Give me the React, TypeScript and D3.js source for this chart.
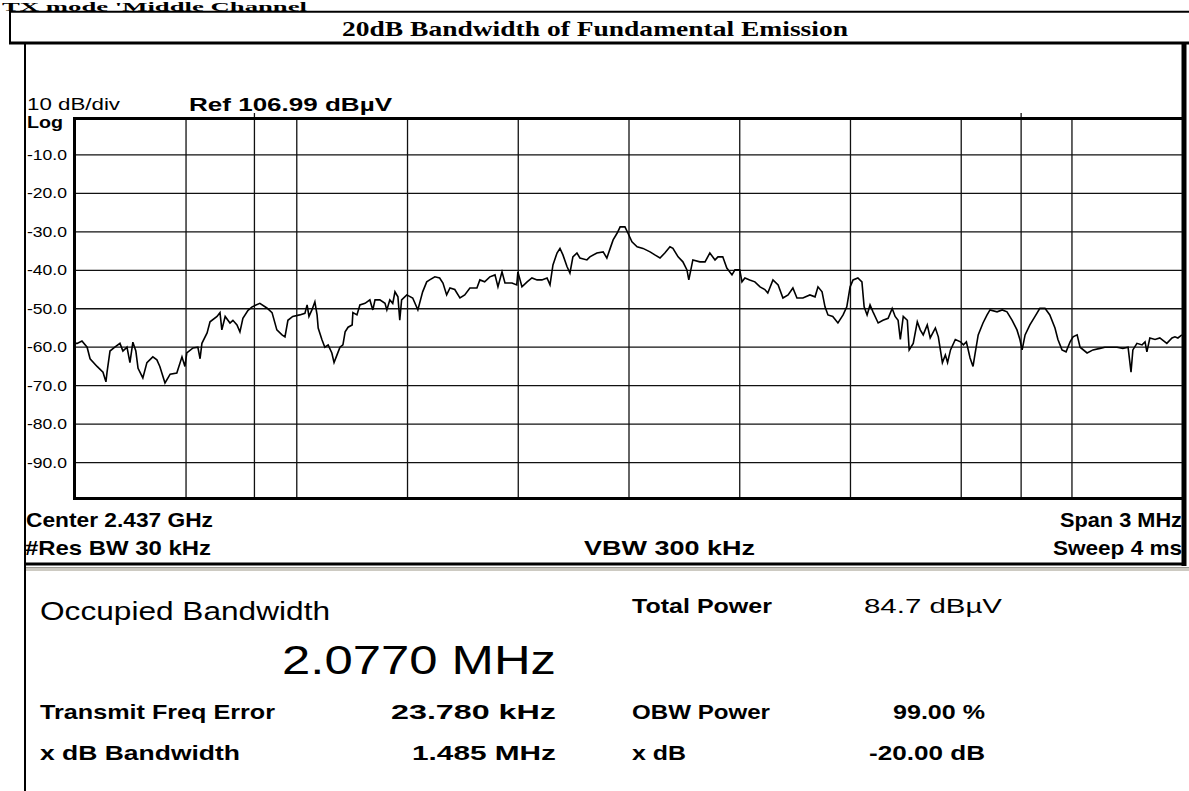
import * as d3 from 'd3';

// Trace: frequency offset from centre (kHz) and level (dB)
const freqKHz = [
  -1500, -1495, -1482, -1468, -1460, -1441, -1425, -1417, -1414, -1406, -1393, -1379, -1371, -1360, -1352, -1344,
  -1336, -1330, -1317, -1306, -1290, -1279, -1271, -1257, -1243, -1225, -1211, -1203, -1198, -1181, -1168, -1162,
  -1157, -1143, -1135, -1116, -1108, -1103, -1094, -1081, -1073, -1062, -1054, -1046, -1032, -1021, -1000, -981,
  -967, -954, -940, -932, -924, -911, -892, -878, -872, -867, -859, -851, -845, -842, -832, -824,
  -815, -805, -799, -791, -783, -775, -769, -761, -750, -748, -737, -729, -715, -702, -694, -688,
  -675, -661, -656, -648, -640, -634, -626, -621, -616, -602, -586, -572, -559, -548, -540, -526,
  -513, -504, -494, -485, -472, -458, -445, -431, -412, -404, -391, -377, -363, -355, -344, -336,
  -317, -304, -301, -290, -276, -263, -249, -236, -222, -214, -206, -195, -187, -179, -168, -160,
  -152, -141, -133, -114, -106, -87, -70, -60, -51, -43, -32, -24, -11, -3, 8, 22,
  38, 57, 70, 84, 97, 111, 119, 133, 146, 157, 162, 173, 192, 206, 219, 233,
  241, 254, 265, 279, 287, 300, 306, 314, 327, 341, 355, 368, 376, 390, 404, 417,
  431, 444, 455, 471, 490, 504, 512, 523, 531, 539, 552, 566, 580, 590, 599, 607,
  620, 631, 637, 645, 653, 661, 675, 688, 702, 713, 721, 729, 735, 743, 754, 759,
  770, 781, 789, 797, 808, 816, 830, 838, 849, 857, 863, 871, 884, 898, 906, 914,
  924, 932, 937, 946, 959, 970, 978, 997, 1011, 1024, 1038, 1051, 1059, 1065, 1073, 1086,
  1100, 1113, 1127, 1140, 1154, 1162, 1173, 1184, 1195, 1203, 1214, 1222, 1241, 1257, 1276, 1289,
  1303, 1322, 1338, 1352, 1360, 1365, 1376, 1390, 1398, 1403, 1411, 1425, 1438, 1457, 1471, 1479,
  1487, 1498,
];
const levelDb = [
  -59, -59, -58.4, -60, -63, -65, -66.5, -69, -66.5, -61, -60, -59, -61, -60, -64, -58.7,
  -61, -65.5, -68, -64, -62.5, -63.3, -65, -69.3, -67, -66.7, -62.5, -65, -61.5, -60.2, -60, -63,
  -59, -56.3, -53.4, -52, -51, -55.5, -52, -53.7, -53, -54.2, -56, -52.5, -50.4, -49.5, -48.6, -49.8,
  -51, -55.5, -56.8, -57.3, -53, -52, -51.6, -51.2, -49, -52, -50.3, -48.2, -51.6, -55, -58, -60,
  -59.4, -61.5, -64, -62, -60, -59.4, -56, -54.8, -54.2, -51, -51.6, -49, -48.6, -47.7, -50.3, -47.7,
  -47.7, -48.6, -50.3, -47.7, -48.6, -45.6, -46.9, -53, -47.7, -46.4, -47.2, -50.3, -45.6, -43, -42.5, -41.7,
  -42, -43.3, -46.4, -44.6, -45, -47.2, -46.4, -44.6, -44.6, -42.5, -43, -41.7, -41.2, -44.3, -40.4, -43.3,
  -43.3, -43.8, -40.4, -44.3, -43, -42, -42.5, -42.5, -42, -43.8, -38.6, -35.5, -34.3, -36, -39, -40.7,
  -36.5, -35.5, -36.8, -37.3, -36.5, -35.5, -35.2, -36.8, -34.3, -32.1, -30.3, -28.7, -28.7, -30.3, -32.6, -33.9,
  -34.3, -35.2, -36, -36.8, -35.5, -33.9, -34.3, -36.5, -37.8, -39.9, -42.5, -37.3, -37.8, -37.8, -35.5, -37.3,
  -36.5, -36.5, -39.4, -41.2, -39.9, -39.9, -43, -42, -42.5, -43, -44.3, -45, -45.9, -42.5, -43.8, -47.2,
  -46.4, -44.6, -47.2, -47.2, -46.4, -46.9, -44.3, -45.6, -49.5, -51.6, -52, -53.7, -51.6, -49.5, -44.3, -42.5,
  -42, -43, -49.5, -51.6, -49, -50.8, -53.7, -53, -52.5, -49.9, -52, -53, -58, -52, -53, -60.7,
  -59, -53.4, -55.5, -56.8, -54.2, -57.6, -55, -57.3, -64, -62, -64, -60.7, -58, -58.6, -59.4, -58.6,
  -62.8, -65, -62, -56.8, -53.7, -51.6, -50.3, -50.8, -50.3, -50.8, -53, -55.5, -58, -60.7, -56.8, -54.2,
  -52, -49.9, -49.9, -51.6, -55, -58, -60.7, -61.2, -58.6, -57.3, -56.8, -60, -61.5, -60.7, -60.3, -60,
  -60, -60, -60.3, -60, -66.5, -60.7, -59, -59.4, -58.6, -61.2, -57.6, -58, -57.6, -59, -57.6, -57.3,
  -57.6, -56.8,
];

const yTickValues = [-10, -20, -30, -40, -50, -60, -70, -80, -90];
const xDivisions = [-1200, -900, -600, -300, 0, 300, 600, 900, 1200];

// occupied bandwidth markers
const freqErrorKHz = 23.78;
const obwKHz = 2077;

const SANS = '"Liberation Sans", Arial, sans-serif';
const SERIF = '"Liberation Serif", "Times New Roman", serif';

type TxtProps = {
  x: number; y: number; w: number; size: number; bold?: boolean;
  anchor?: 'start' | 'middle' | 'end'; family?: string; children: string;
};

function Txt({ x, y, w, size, bold, anchor = 'start', family = SANS, children }: TxtProps) {
  return (
    <text x={x} y={y} fontSize={size} fontWeight={bold ? 700 : 400} fontFamily={family}
      textAnchor={anchor} textLength={w} lengthAdjust="spacingAndGlyphs" fill="#000">
      {children}
    </text>
  );
}

export default function App() {
  const width = 1189;
  const height = 791;
  const plot = { left: 75.3, right: 1182.7, top: 116.5, bottom: 501 };

  const x = d3.scaleLinear().domain([-1500, 1500]).range([plot.left, plot.right]);
  const y = d3.scaleLinear().domain([0, -100]).range([plot.top, plot.bottom]);

  const trace = d3.line<number>()
    .x((_, i) => x(freqKHz[i]))
    .y(d => y(d))(levelDb) || '';

  const obwLeft = freqErrorKHz - obwKHz / 2;
  const obwRight = freqErrorKHz + obwKHz / 2;

  return (
    <svg width={width} height={height} style={{ position: 'absolute', left: 0, top: 0, background: '#fff' }}>
      <defs>
        <clipPath id="plotClip">
          <rect x={75} y={118} width={1107} height={380} />
        </clipPath>
      </defs>

      {/* document header */}
      <Txt x={2} y={10.5} w={305} size={13.5} bold family={SERIF}>TX mode 'Middle Channel</Txt>
      <line x1={9} x2={1189} y1={11.8} y2={11.8} stroke="#000" strokeWidth={2} />
      <line x1={10} x2={10} y1={11} y2={43} stroke="#000" strokeWidth={2} />
      <Txt x={595} y={36} w={506} size={22} bold family={SERIF} anchor="middle">
        20dB Bandwidth of Fundamental Emission
      </Txt>
      <line x1={9} x2={1189} y1={43} y2={43} stroke="#000" strokeWidth={3} />

      {/* instrument frame */}
      <line x1={25} x2={25} y1={43} y2={791} stroke="#000" strokeWidth={2} />
      <line x1={1184} x2={1184} y1={43} y2={566} stroke="#000" strokeWidth={5} />
      <line x1={25} x2={1186} y1={564} y2={564} stroke="#000" strokeWidth={3} />
      <rect x={26} y={567} width={1163} height={4} fill="#cdcac2" />
      <line x1={26} x2={1189} y1={567.5} y2={567.5} stroke="#9c9a94" strokeWidth={1} />

      {/* grid */}
      <g clipPath="url(#plotClip)" stroke="#111" strokeWidth={1.3}>
        {yTickValues.map(v => (
          <line key={v} x1={plot.left} x2={plot.right} y1={y(v)} y2={y(v)} />
        ))}
        {xDivisions.map(v => (
          <line key={v} x1={x(v)} x2={x(v)} y1={plot.top} y2={plot.bottom} />
        ))}
      </g>
      {[obwLeft, obwRight].map(v => (
        <line key={v} x1={x(v)} x2={x(v)} y1={113} y2={498} stroke="#111" strokeWidth={1.3} />
      ))}

      {/* trace */}
      <path d={trace} fill="none" stroke="#000" strokeWidth={1.6} strokeLinejoin="miter"
        clipPath="url(#plotClip)" />

      {/* plot border */}
      <line x1={74.5} x2={74.5} y1={117} y2={500} stroke="#000" strokeWidth={3} />
      <line x1={73} x2={1183} y1={118.5} y2={118.5} stroke="#000" strokeWidth={3} />
      <line x1={73} x2={1183} y1={498.5} y2={498.5} stroke="#000" strokeWidth={3} />

      {/* screen annotations */}
      <Txt x={27} y={110} w={93} size={16}>10 dB/div</Txt>
      <Txt x={189} y={111} w={203} size={19} bold>Ref 106.99 dBµV</Txt>
      <Txt x={27} y={128} w={36} size={17} bold>Log</Txt>
      {yTickValues.map(v => (
        <Txt key={v} x={27} y={y(v) + 5} w={40} size={14.5}>{v.toFixed(1)}</Txt>
      ))}

      <Txt x={26} y={527} w={187} size={21} bold>Center  2.437 GHz</Txt>
      <Txt x={25} y={555} w={186} size={21} bold>#Res BW  30 kHz</Txt>
      <Txt x={584} y={555} w={171} size={21} bold>VBW  300 kHz</Txt>
      <Txt x={1182} y={527} w={122} size={21} bold anchor="end">Span 3 MHz</Txt>
      <Txt x={1182} y={555} w={129} size={21} bold anchor="end">Sweep  4 ms</Txt>

      {/* measurement panel */}
      <Txt x={40} y={620} w={290} size={26}>Occupied Bandwidth</Txt>
      <Txt x={282} y={674} w={274} size={41}>2.0770 MHz</Txt>
      <Txt x={40} y={719} w={235} size={21} bold>Transmit Freq Error</Txt>
      <Txt x={556} y={719} w={165} size={21} bold anchor="end">23.780 kHz</Txt>
      <Txt x={40} y={760} w={200} size={21} bold>x dB Bandwidth</Txt>
      <Txt x={556} y={760} w={144} size={21} bold anchor="end">1.485 MHz</Txt>

      <Txt x={632} y={613} w={140} size={21} bold>Total Power</Txt>
      <Txt x={864} y={613} w={138} size={21}>84.7 dBµV</Txt>
      <Txt x={632} y={719} w={138} size={21} bold>OBW Power</Txt>
      <Txt x={985} y={719} w={92} size={21} bold anchor="end">99.00 %</Txt>
      <Txt x={632} y={760} w={54} size={21} bold>x dB</Txt>
      <Txt x={985} y={760} w={116} size={21} bold anchor="end">-20.00 dB</Txt>
    </svg>
  );
}
